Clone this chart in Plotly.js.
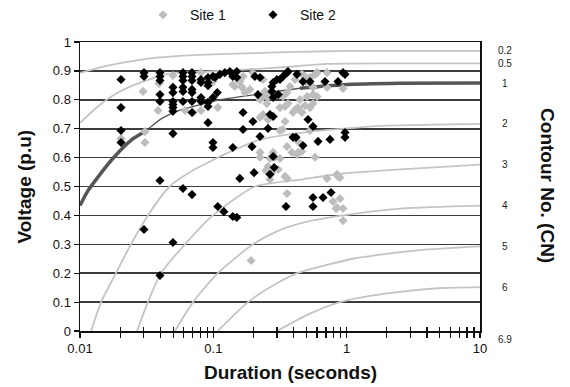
<!DOCTYPE html>
<html><head><meta charset="utf-8">
<script src="https://cdn.plot.ly/plotly-3.0.1.min.js"></script>
<style>html,body{margin:0;padding:0;background:#fff}#chart{width:570px;height:387px}</style>
</head><body><div id="chart"></div>
<script>
// ---- Site 1 (grey diamonds): duration (s), voltage (p.u)
const site1Dur = [0.0203,0.0307,0.0307,0.0391,0.0385,0.0498,0.0613,0.0704,0.0808,0.0808,0.0994,0.0297,0.108,0.140,0.145,0.158,0.167,0.164,0.173,0.188,0.198,0.236,0.244,0.224,0.236,0.252,0.257,0.275,0.236,0.224,0.257,0.376,0.410,0.462,0.487,0.531,0.579,0.600,0.712,0.712,0.505,0.559,0.363,0.345,0.316,0.345,0.396,0.410,0.432,0.462,0.487,0.447,0.505,0.559,0.600,0.531,0.559,0.333,0.357,0.331,0.316,0.531,0.432,0.462,0.432,0.424,0.281,0.389,0.357,0.224,0.224,0.266,0.290,0.316,0.248,0.275,0.307,0.257,0.266,0.345,0.357,0.357,0.579,0.712,0.861,0.891,0.847,0.790,0.891,0.832,0.847,0.939,0.939,0.192,0.939];
const site1V   = [0.666,0.690,0.652,0.856,0.763,0.884,0.763,0.756,0.894,0.763,0.863,0.829,0.773,0.853,0.846,0.863,0.881,0.843,0.825,0.836,0.894,0.870,0.829,0.801,0.811,0.787,0.808,0.818,0.749,0.739,0.732,0.846,0.870,0.888,0.881,0.877,0.888,0.894,0.894,0.843,0.860,0.843,0.787,0.777,0.773,0.725,0.756,0.766,0.773,0.756,0.780,0.801,0.811,0.818,0.811,0.773,0.787,0.811,0.825,0.697,0.694,0.694,0.656,0.621,0.618,0.611,0.618,0.618,0.638,0.618,0.601,0.597,0.601,0.597,0.555,0.548,0.559,0.569,0.524,0.535,0.528,0.476,0.601,0.528,0.535,0.531,0.542,0.448,0.458,0.424,0.427,0.424,0.382,0.244,0.839];

// ---- Site 2 (black diamonds)
const site2Dur = [0.0203,0.0203,0.0203,0.0203,0.0302,0.0302,0.0302,0.0398,0.0398,0.0398,0.0398,0.0398,0.0398,0.0398,0.0498,0.0498,0.0498,0.0498,0.0498,0.0498,0.0498,0.0498,0.0592,0.0592,0.0592,0.0592,0.0592,0.0592,0.0592,0.0692,0.0692,0.0692,0.0692,0.0692,0.0692,0.0692,0.0692,0.0808,0.0808,0.0808,0.0808,0.0912,0.0912,0.0912,0.0912,0.0912,0.0912,0.0994,0.0994,0.0994,0.0994,0.103,0.107,0.108,0.120,0.140,0.150,0.112,0.122,0.133,0.140,0.150,0.150,0.167,0.167,0.158,0.140,0.195,0.205,0.224,0.198,0.216,0.224,0.202,0.257,0.266,0.281,0.281,0.286,0.266,0.275,0.281,0.300,0.316,0.333,0.357,0.363,0.424,0.275,0.281,0.307,0.351,0.396,0.417,0.470,0.513,0.559,0.610,0.750,0.972,0.972,0.470,0.531,0.688,0.861,0.939,0.972,0.559,0.559,0.665,0.763];
const site2V   = [0.870,0.773,0.694,0.652,0.894,0.881,0.351,0.894,0.881,0.867,0.818,0.794,0.521,0.192,0.843,0.825,0.794,0.784,0.773,0.760,0.683,0.306,0.894,0.881,0.867,0.843,0.829,0.794,0.493,0.894,0.881,0.867,0.836,0.825,0.794,0.756,0.472,0.870,0.860,0.808,0.794,0.877,0.860,0.849,0.791,0.777,0.721,0.881,0.808,0.652,0.635,0.877,0.825,0.431,0.413,0.396,0.393,0.888,0.894,0.898,0.881,0.898,0.877,0.756,0.697,0.528,0.635,0.638,0.881,0.877,0.725,0.818,0.673,0.548,0.701,0.749,0.742,0.604,0.566,0.542,0.846,0.860,0.870,0.870,0.881,0.894,0.898,0.888,0.829,0.808,0.818,0.431,0.670,0.670,0.642,0.732,0.708,0.656,0.663,0.687,0.670,0.863,0.863,0.863,0.863,0.894,0.888,0.462,0.431,0.462,0.479];

// ---- Contour number (CN) curves
const cn02Dur = [0.01,0.0135,0.0176,0.03,0.05,0.1,0.3,0.7,1,10];
const cn02V   = [0.893,0.91,0.922,0.94,0.95,0.957,0.964,0.968,0.969,0.969];
const cn05Dur = [0.01,0.0136,0.0193,0.0286,0.0457,0.094,0.3,0.71,2,10];
const cn05V   = [0.72,0.777,0.825,0.86,0.89,0.898,0.911,0.924,0.926,0.926];
const cn1Dur  = [0.01,0.0115,0.0171,0.0241,0.0307,0.0405,0.0543,0.112,0.224,0.446,0.94,2.5,10];
const cn1V    = [0.434,0.486,0.59,0.66,0.69,0.734,0.762,0.80,0.82,0.84,0.852,0.857,0.858];
const cn2Dur  = [0.0121,0.0144,0.0186,0.0241,0.0323,0.047,0.07,0.108,0.133,0.224,0.53,0.94,1.78,10];
const cn2V    = [0,0.1,0.2,0.3,0.4,0.5,0.555,0.6,0.62,0.662,0.69,0.70,0.71,0.717];
const cn3Dur  = [0.0268,0.0323,0.0405,0.0613,0.0991,0.205,0.47,0.94,3.16,10];
const cn3V    = [0,0.1,0.2,0.3,0.4,0.5,0.525,0.545,0.562,0.576];
const cn4Dur  = [0.0516,0.0704,0.108,0.198,0.30,0.47,0.94,2.65,10];
const cn4V    = [0,0.1,0.2,0.3,0.345,0.375,0.40,0.424,0.434];
const cn5Dur  = [0.108,0.182,0.30,0.425,1.12,3.5,10];
const cn5V    = [0,0.1,0.165,0.2,0.25,0.28,0.293];
const cn6Dur  = [0.30,0.53,0.89,2.0,4.8,10];
const cn6V    = [0,0.06,0.1,0.13,0.148,0.152];
const cn69Dur = [10];
const cn69V   = [0];
const cnLabels = ['0.2','0.5','1','2','3','4','5','6','6.9'];

// ---- axis ticks
const xDecades = [0.01,0.1,1,10];
const xTickLabels = ['0.01','0.1','1','10'];
const yTicks = [0,0.1,0.2,0.3,0.4,0.5,0.6,0.7,0.8,0.9,1];
const yTickLabels = ['0','0.1','0.2','0.3','0.4','0.5','0.6','0.7','0.8','0.9','1'];

const FONT = 'Liberation Sans, Arial, sans-serif';
const curves = [
  [cn02Dur,cn02V],[cn05Dur,cn05V],[cn1Dur,cn1V],[cn2Dur,cn2V],[cn3Dur,cn3V],
  [cn4Dur,cn4V],[cn5Dur,cn5V],[cn6Dur,cn6V],[cn69Dur,cn69V]
];

const traces = [];
curves.forEach((c,i)=>{
  const main = cnLabels[i]==='1';
  traces.push({x:c[0],y:c[1],type:'scatter',mode:'lines',showlegend:false,hoverinfo:'skip',
    line:{color: main ? '#555555' : '#c4c4c4', width: main ? 1.3 : 1.8, shape:'spline', smoothing:0.6}});
  if (main) {
    // heavy stroke on the outer parts of the CN = 1 curve, as in the original
    const yHeavy = c[1].map((v,k)=> (c[0][k] > 0.031 && c[0][k] < 0.44) ? null : v);
    traces.push({x:c[0],y:yHeavy,type:'scatter',mode:'lines',showlegend:false,hoverinfo:'skip',
      connectgaps:false,line:{color:'#555555',width:3.5,shape:'spline',smoothing:0.6}});
  }
});
traces.push({x:site1Dur,y:site1V,type:'scatter',mode:'markers',name:'Site 1',
  marker:{symbol:'diamond',size:7,color:'#bdbdbd'}});
traces.push({x:site2Dur,y:site2V,type:'scatter',mode:'markers',name:'Site 2',
  marker:{symbol:'diamond',size:7,color:'#000000'}});
// helper axis for the inward half of the crossing x ticks
traces.push({x:[],y:[],xaxis:'x2',type:'scatter',mode:'markers',showlegend:false});

// tick positions 1..9 per decade
const xTickVals = [], xTickText = [];
for (let d=0; d<3; d++){
  for (let m=1; m<=9; m++){
    xTickVals.push(xDecades[d]*m);
    xTickText.push(m===1 ? xTickLabels[d] : '');
  }
}
xTickVals.push(xDecades[3]); xTickText.push(xTickLabels[3]);

const annotations = [];
curves.forEach((c,i)=>{
  const endV = c[1][c[1].length-1];
  annotations.push({xref:'paper',yref:'y',x:1.0625,y:endV,text:cnLabels[i],showarrow:false,
    xanchor:'center',yanchor:'middle',yshift: endV===0 ? -8 : 0,
    font:{family:FONT,size:10,color:'#222'}});
});
annotations.push({xref:'paper',yref:'paper',x:-0.14,y:0.5,text:'<b>Voltage (p.u)</b>',textangle:-90,
  showarrow:false,xanchor:'center',yanchor:'middle',font:{family:FONT,size:19,color:'#111'}});
annotations.push({xref:'paper',yref:'paper',x:0.525,y:-0.145,text:'<b>Duration (seconds)</b>',
  showarrow:false,xanchor:'center',yanchor:'middle',font:{family:FONT,size:19,color:'#111'}});
annotations.push({xref:'paper',yref:'paper',x:1.17,y:0.505,text:'<b>Contour No. (CN)</b>',textangle:90,
  showarrow:false,xanchor:'center',yanchor:'middle',font:{family:FONT,size:19,color:'#111'}});

const layout = {
  width:570, height:387,
  margin:{l:80,r:90,t:42,b:56,pad:0},
  paper_bgcolor:'#fff', plot_bgcolor:'#fff',
  font:{family:FONT,size:13,color:'#111'},
  showlegend:true,
  legend:{orientation:'h',xref:'paper',x:0.14,xanchor:'left',yref:'container',y:0.961,yanchor:'middle',
    itemwidth:44,entrywidth:51,entrywidthmode:'pixels',font:{family:FONT,size:14,color:'#111'},bgcolor:'rgba(0,0,0,0)'},
  xaxis:{type:'log',range:[-2,1],tickmode:'array',tickvals:xTickVals,ticktext:xTickText,
    ticks:'outside',ticklen:5,tickwidth:1.2,tickcolor:'#111',showgrid:false,zeroline:false,
    showline:true,linecolor:'#111',linewidth:1.5,mirror:true,
    tickfont:{family:FONT,size:13,color:'#111'}},
  xaxis2:{type:'log',range:[-2,1],overlaying:'x',anchor:'y',side:'bottom',tickmode:'array',
    tickvals:xTickVals,ticks:'inside',ticklen:4,tickwidth:1.2,tickcolor:'#111',
    showticklabels:false,showgrid:false,zeroline:false,showline:false},
  yaxis:{range:[0,1],tickmode:'array',tickvals:yTicks,ticktext:yTickLabels,
    ticks:'outside',ticklen:5,tickwidth:1.2,tickcolor:'#111',
    showgrid:true,gridcolor:'#3c3c3c',gridwidth:1.6,zeroline:false,
    showline:true,linecolor:'#111',linewidth:1.5,mirror:true,
    tickfont:{family:FONT,size:13,color:'#111'}},
  annotations:annotations
};

Plotly.newPlot('chart',traces,layout,{staticPlot:true,displayModeBar:false});
</script>
</body></html>
